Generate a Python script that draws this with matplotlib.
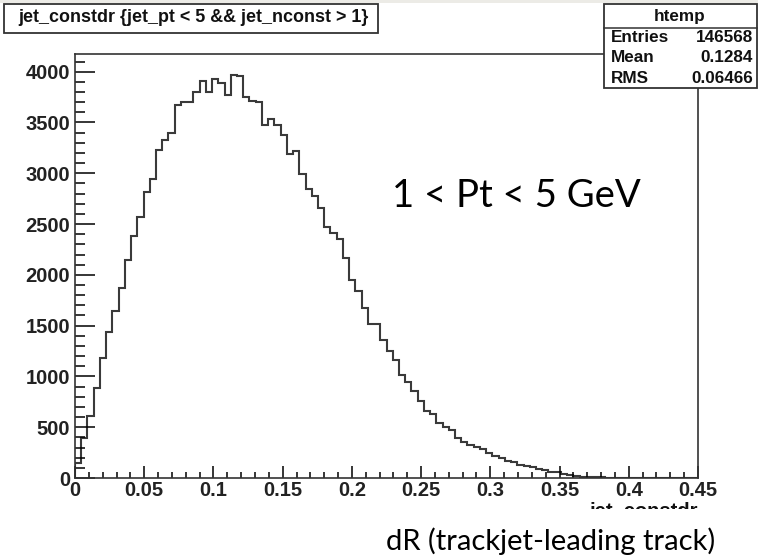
import numpy as np
import matplotlib.pyplot as plt
from matplotlib.patches import Rectangle

# histogram contents, 100 bins from 0 to 0.45
bin_lo = 0.0
bin_hi = 0.45
counts = [
    150, 390, 614, 883, 1179, 1435, 1645, 1875, 2147, 2387,
    2574, 2820, 2945, 3231, 3329, 3401, 3674, 3697, 3697, 3795,
    3904, 3795, 3927, 3888, 3772, 3970, 3953, 3750, 3716, 3697,
    3477, 3530, 3477, 3378, 3188, 3221, 2991, 2843, 2778, 2656,
    2475, 2416, 2351, 2164, 1950, 1842, 1671, 1517, 1517, 1359,
    1250, 1158, 1018, 949, 857, 758, 663, 630, 539, 506,
    473, 391, 358, 325, 308, 283, 243, 217, 194, 170,
    155, 128, 118, 105, 86, 79, 56, 56, 35, 25,
    20, 12, 10, 8, 5, 3, 0, 0, 0, 0,
    0, 0, 0, 0, 0, 0, 0, 0, 0, 0,
]
xticks = [0, 0.05, 0.1, 0.15, 0.2, 0.25, 0.3, 0.35, 0.4, 0.45]
xticklabels = ["0", "0.05", "0.1", "0.15", "0.2", "0.25", "0.3", "0.35", "0.4", "0.45"]
yticks = [0, 500, 1000, 1500, 2000, 2500, 3000, 3500, 4000]

title = "jet_constdr {jet_pt < 5 && jet_nconst > 1}"
stats_name = "htemp"
stats_rows = [("Entries", "146568"), ("Mean", "0.1284"), ("RMS", "0.06466")]
xvar = "jet_constdr"
note = "1 < Pt < 5 GeV"
xlabel_slide = "dR (trackjet-leading track)"

W, H = 758, 560
root_font = "Liberation Sans"
slide_font = "Lato"


def fx(px):
    return px / W


def fy(py):
    return 1 - py / H


fig = plt.figure(figsize=(W / 100, H / 100), dpi=100)
fig.patch.set_facecolor("white")

ax = fig.add_axes([fx(75), fy(478), fx(698) - fx(75), fy(54) - fy(478)])
edges = np.linspace(bin_lo, bin_hi, len(counts) + 1)
ax.stairs(counts, edges, color="#3a3a3a", linewidth=1.5, baseline=0)
ax.set_xlim(bin_lo, bin_hi)
ax.set_ylim(0, 4174)

ax.set_xticks(xticks)
ax.set_xticklabels(xticklabels)
ax.set_yticks(yticks)
ax.set_xticks(np.arange(0, 0.451, 0.01), minor=True)
ax.set_yticks(np.arange(0, 4174, 100), minor=True)
ax.tick_params(axis="x", which="major", direction="in", length=8.6, width=1.1, pad=2.5)
ax.tick_params(axis="x", which="minor", direction="in", length=4.3, width=1.1)
ax.tick_params(axis="y", which="major", direction="in", length=14.4, width=1.1, pad=3.4)
ax.tick_params(axis="y", which="minor", direction="in", length=7.2, width=1.1)
for lab in ax.get_xticklabels() + ax.get_yticklabels():
    lab.set_fontfamily(root_font)
    lab.set_fontweight("bold")
    lab.set_fontsize(14.5)
    lab.set_color("#222222")
for sp in ax.spines.values():
    sp.set_linewidth(1.2)
    sp.set_color("#333333")

# top strip of the slide
fig.add_artist(Rectangle((0, fy(3)), 1, fy(0) - fy(3), transform=fig.transFigure,
                         facecolor="#ecebe6", edgecolor="none", zorder=1))

# title box
fig.add_artist(Rectangle((fx(4), fy(33)), fx(378) - fx(4), fy(4) - fy(33),
                         transform=fig.transFigure, facecolor="white",
                         edgecolor="#333333", linewidth=1.3, zorder=3))
fig.text(fx(194), fy(18), title, ha="center", va="center", family=root_font,
         weight="bold", fontsize=12.9, color="#111111", zorder=4)

# stats box
fig.add_artist(Rectangle((fx(604), fy(88)), fx(757) - fx(604), fy(4) - fy(88),
                         transform=fig.transFigure, facecolor="white",
                         edgecolor="#333333", linewidth=1.3, zorder=3))
fig.add_artist(plt.Line2D([fx(604), fx(757)], [fy(28), fy(28)], transform=fig.transFigure,
                          color="#333333", linewidth=1.1, zorder=4))
fig.text(fx(680), fy(16), stats_name, ha="center", va="center", family=root_font,
         weight="bold", fontsize=12.3, color="#111111", zorder=4)
for i, (k, v) in enumerate(stats_rows):
    y = fy(37 + 21 * i)
    fig.text(fx(611), y, k, ha="left", va="center", family=root_font,
             weight="bold", fontsize=12.3, color="#111111", zorder=4)
    fig.text(fx(753), y, v, ha="right", va="center", family=root_font,
             weight="bold", fontsize=12.3, color="#111111", zorder=4)

# axis title, mostly hidden under the slide text box
fig.text(fx(698), fy(502), xvar, ha="right", va="top", family=root_font,
         weight="bold", fontsize=14.5, color="#111111", zorder=2)
fig.add_artist(Rectangle((fx(380), 0), 1 - fx(380), fy(509), transform=fig.transFigure,
                         facecolor="white", edgecolor="none", zorder=3))

# slide annotations
fig.text(fx(392), fy(196), note, ha="left", va="center", family=slide_font,
         fontsize=27.5, color="black", zorder=5)
fig.text(fx(386), fy(541), xlabel_slide, ha="left", va="center", family=slide_font,
         fontsize=21, color="black", zorder=5)

fig.savefig("out.png", dpi=100)
